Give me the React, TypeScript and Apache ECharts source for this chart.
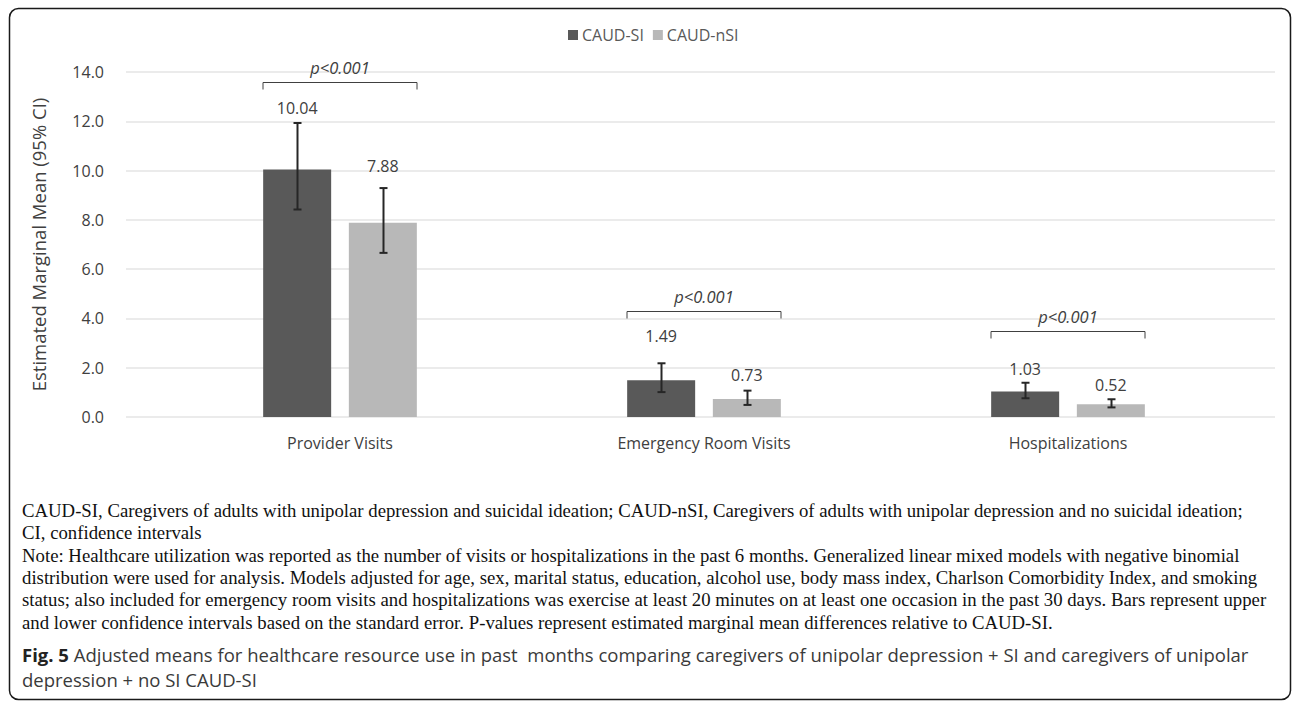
import React, { useEffect, useRef } from "react";
import * as echarts from "echarts";

// Healthcare resource use: estimated marginal means with 95% CI
const categories = ["Provider Visits", "Emergency Room Visits", "Hospitalizations"];
const siMeans = [10.04, 1.49, 1.03];
const nsiMeans = [7.88, 0.73, 0.52];
const siLower = [8.42, 1.01, 0.76];
const siUpper = [11.93, 2.18, 1.39];
const nsiLower = [6.66, 0.49, 0.39];
const nsiUpper = [9.29, 1.07, 0.72];
const pLabels = ["p<0.001", "p<0.001", "p<0.001"];
const bracketLevels = [13.61, 4.31, 3.5];
const yTicks = { min: 0, max: 14, interval: 2 };

const footnoteLines = [
  "CAUD-SI, Caregivers of adults with unipolar depression and suicidal ideation; CAUD-nSI, Caregivers of adults with unipolar depression and no suicidal ideation;",
  "CI, confidence intervals",
  "Note: Healthcare utilization was reported as the number of visits or hospitalizations in the past 6 months. Generalized linear mixed models with negative binomial",
  "distribution were used for analysis. Models adjusted for age, sex, marital status, education, alcohol use, body mass index, Charlson Comorbidity Index, and smoking",
  "status; also included for emergency room visits and hospitalizations was exercise at least 20 minutes on at least one occasion in the past 30 days. Bars represent upper",
  "and lower confidence intervals based on the standard error. P-values represent estimated marginal mean differences relative to CAUD-SI.",
];
const captionLines = [
  "Adjusted means for healthcare resource use in past  months comparing caregivers of unipolar depression + SI and caregivers of unipolar",
  "depression + no SI CAUD-SI",
];

// styling
const SANS = '"Open Sans", sans-serif';
const SERIF = '"Liberation Serif", "Times New Roman", serif';
const DARK = "#595959";
const LIGHT = "#b8b8b8";
const TEXT = "#404040";
const BAR_W = 68;
const BAR_SHIFT = 43; // half distance between the two bar centres
const siLabelLift = [-48.5, -31, -10];
const nsiLabelLift = [-44, -11, -6];

function errorBars(lower: number[], upper: number[], shift: number) {
  return {
    type: "custom",
    xAxisIndex: 1,
    yAxisIndex: 1,
    z: 5,
    silent: true,
    data: categories.map((_, i) => [i, lower[i], upper[i]]),
    encode: { x: 0, y: [1, 2] },
    renderItem: (_p: any, api: any) => {
      const lo = api.coord([api.value(0), api.value(1)]);
      const hi = api.coord([api.value(0), api.value(2)]);
      const x = Math.round(lo[0] + shift) + 0.5;
      const st = { stroke: "#262626", lineWidth: 2 };
      return {
        type: "group",
        children: [
          { type: "line", shape: { x1: x, y1: hi[1], x2: x, y2: lo[1] }, style: st },
          { type: "line", shape: { x1: x - 4, y1: hi[1], x2: x + 4, y2: hi[1] }, style: st },
          { type: "line", shape: { x1: x - 4, y1: lo[1], x2: x + 4, y2: lo[1] }, style: st },
        ],
      };
    },
  };
}

export default function App() {
  const ref = useRef<HTMLDivElement>(null);

  useEffect(() => {
    if (!ref.current) return;
    const chart = echarts.init(ref.current, null, { renderer: "svg" });

    const footGraphics = footnoteLines.map((t, i) => ({
      type: "text",
      left: 22,
      top: 501 + i * 22.3,
      style: { text: t, fontFamily: SERIF, fontSize: 18.75, fill: "#111" },
    }));

    const valueLabel = {
      show: true,
      position: "top",
      color: TEXT,
      fontSize: 16,
      fontFamily: SANS,
      formatter: (p: any) => p.value.toFixed(2),
    };

    chart.setOption({
      animation: false,
      backgroundColor: "#ffffff",
      legend: {
        data: ["CAUD-SI", "CAUD-nSI"],
        left: 563,
        top: 22,
        icon: "rect",
        itemWidth: 10,
        itemHeight: 10,
        itemGap: 9,
        textStyle: { color: DARK, fontSize: 16, fontFamily: SANS, padding: [0, 0, 0, -1] },
        selectedMode: false,
      },
      grid: [
        { left: 126, right: 17, top: 72, bottom: 285 },
        { left: 158, right: 42, top: 72, bottom: 285 },
      ],
      xAxis: [
        { type: "value", gridIndex: 0, min: 0, max: 1, show: false },
        {
          type: "category",
          gridIndex: 1,
          data: categories,
          axisLine: { show: false },
          axisTick: { show: false },
          axisLabel: { color: TEXT, fontSize: 16, fontFamily: SANS, margin: 18 },
        },
      ],
      yAxis: [
        {
          type: "value",
          gridIndex: 0,
          ...yTicks,
          name: "Estimated Marginal Mean (95% CI)",
          nameLocation: "middle",
          nameGap: 78,
          nameTextStyle: { color: TEXT, fontSize: 18.5, fontFamily: SANS },
          axisLine: { show: false },
          axisTick: { show: false },
          axisLabel: {
            color: TEXT,
            fontSize: 16,
            fontFamily: SANS,
            margin: 22,
            formatter: (v: number) => v.toFixed(1),
          },
          splitLine: { lineStyle: { color: "#e4e4e4", width: 1.5 } },
        },
        { type: "value", gridIndex: 1, ...yTicks, show: false, splitLine: { show: false } },
      ],
      series: [
        {
          name: "CAUD-SI",
          type: "bar",
          xAxisIndex: 1,
          yAxisIndex: 1,
          barWidth: BAR_W,
          barGap: "26%",
          itemStyle: { color: DARK },
          data: siMeans.map((v, i) => ({ value: v, label: { offset: [0, siLabelLift[i]] } })),
          label: valueLabel,
        },
        {
          name: "CAUD-nSI",
          type: "bar",
          xAxisIndex: 1,
          yAxisIndex: 1,
          barWidth: BAR_W,
          itemStyle: { color: LIGHT },
          data: nsiMeans.map((v, i) => ({ value: v, label: { offset: [0, nsiLabelLift[i]] } })),
          label: valueLabel,
        },
        errorBars(siLower, siUpper, -BAR_SHIFT),
        errorBars(nsiLower, nsiUpper, BAR_SHIFT),
        {
          // significance brackets with p-values
          type: "custom",
          xAxisIndex: 1,
          yAxisIndex: 1,
          silent: true,
          data: categories.map((_, i) => [i, bracketLevels[i]]),
          encode: { x: 0, y: 1 },
          renderItem: (p: any, api: any) => {
            const c = api.coord([api.value(0), api.value(1)]);
            const x = c[0];
            const y = Math.round(c[1]) + 0.5;
            const hw = 77;
            return {
              type: "group",
              children: [
                {
                  type: "polyline",
                  shape: { points: [[x - hw, y + 7], [x - hw, y], [x + hw, y], [x + hw, y + 7]] },
                  style: { stroke: TEXT, lineWidth: 1, fill: "none" },
                },
                {
                  type: "text",
                  style: {
                    text: pLabels[p.dataIndex],
                    x,
                    y: y - 15,
                    align: "center",
                    verticalAlign: "middle",
                    fontStyle: "italic",
                    fontSize: 16.5,
                    fontFamily: SANS,
                    fill: TEXT,
                  },
                },
              ],
            };
          },
        },
      ],
      graphic: [
        {
          type: "rect",
          shape: { x: 9.5, y: 8.5, width: 1281, height: 691, r: 9 },
          style: { fill: "none", stroke: "#1a1a1a", lineWidth: 1.5 },
          silent: true,
        },
        ...footGraphics,
        {
          type: "text",
          left: 22,
          top: 645,
          style: {
            text: "{b|Fig. 5} " + captionLines[0],
            fontFamily: SANS,
            fontSize: 18.5,
            fill: "#3a3a3a",
            rich: { b: { fontWeight: "bold", fontFamily: SANS, fontSize: 18.5, fill: "#222" } },
          },
        },
        {
          type: "text",
          left: 22,
          top: 670,
          style: { text: captionLines[1], fontFamily: SANS, fontSize: 18.5, fill: "#3a3a3a" },
        },
      ],
    });

    return () => chart.dispose();
  }, []);

  return (
    <div
      ref={ref}
      style={{ position: "fixed", left: 0, top: 0, width: 1292, height: 702, background: "#fff" }}
    />
  );
}
